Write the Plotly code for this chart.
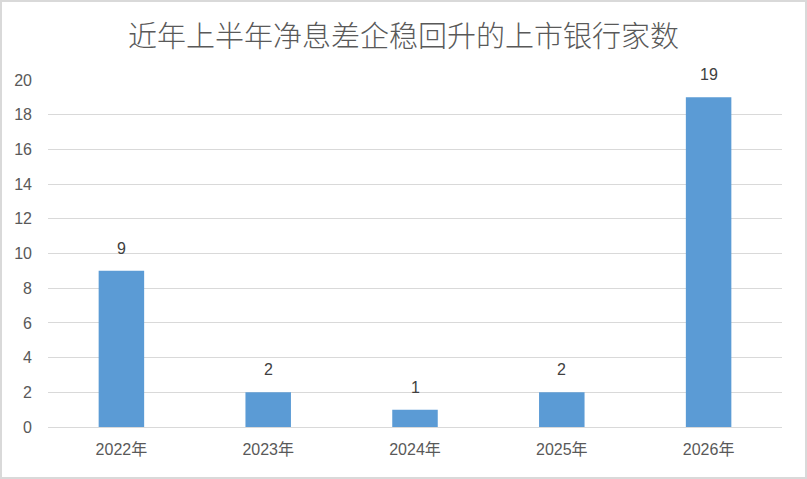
import plotly.graph_objects as go

categories = ["2022年", "2023年", "2024年", "2025年", "2026年"]
values = [9, 2, 1, 2, 19]
y_ticks = list(range(0, 21, 2))
title_text = "近年上半年净息差企稳回升的上市银行家数"

W, H = 807, 479
ml, mr, mt, mb = 48, 25, 80, 52
pw, ph = W - ml - mr, H - mt - mb
FONT = "Liberation Sans, Noto Sans CJK SC"

fig = go.Figure(go.Bar(
    x=categories, y=values,
    marker=dict(color="#5B9BD5", line=dict(width=0)),
    cliponaxis=False, hoverinfo="skip",
))

for c, v in zip(categories, values):
    fig.add_annotation(x=c, y=v, text=str(v), showarrow=False, yanchor="bottom",
                       yshift=12, font=dict(size=16, color="#404040", family=FONT))

fig.update_layout(
    width=W, height=H,
    margin=dict(l=ml, r=mr, t=mt, b=mb),
    paper_bgcolor="white", plot_bgcolor="white",
    bargap=0.69,
    title=dict(text=title_text, x=0.5, xref="container", xanchor="center",
               y=1 - 37 / H, yanchor="middle",
               font=dict(size=29, color="#595959", family="Noto Sans CJK SC", weight=300)),
    font=dict(family=FONT, color="#595959", size=16),
    xaxis=dict(showgrid=False, showline=False, ticks="", tickfont=dict(size=16, color="#595959"),
               ticklabelstandoff=11),
    yaxis=dict(range=[0, 20], tickvals=y_ticks, showgrid=True, gridcolor="#D9D9D9", gridwidth=1,
               zeroline=True, zerolinecolor="#D9D9D9", zerolinewidth=1, showline=False,
               ticks="", tickfont=dict(size=16, color="#595959"), ticklabelstandoff=15),
    shapes=[dict(type="rect", xref="paper", yref="paper",
                 x0=(1 - ml) / pw, x1=(W - 1 - ml) / pw,
                 y0=-(mb - 1) / ph, y1=1 + (mt - 1) / ph,
                 line=dict(color="#D9D9D9", width=2), fillcolor="rgba(0,0,0,0)", layer="below")],
    showlegend=False,
)

fig.write_html("out.html", config={"displayModeBar": False},
               post_script="document.body.style.margin='0';document.body.style.padding='0';")
